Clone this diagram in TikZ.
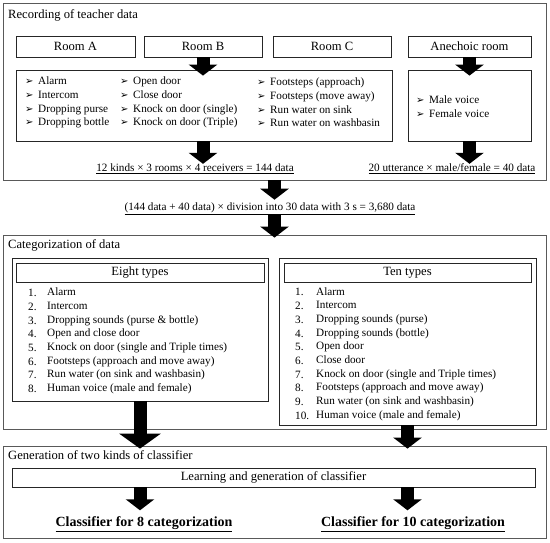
\documentclass[tikz,border=0pt]{standalone}
\usepackage{fontspec}
\setmainfont{Liberation Serif}
\newfontfamily\dejavu{DejaVu Sans}
\usetikzlibrary{arrows.meta}

\newcommand{\bul}{\makebox[13pt][l]{\dejavu\fontsize{10}{10}\selectfont ➢}}

\begin{document}
\begin{tikzpicture}[x = 1pt, y = -1pt]
\tikzstyle{OuterStyle}=[draw = black!65, line width = 0.8pt, inner sep = 0pt]
\tikzstyle{BoxStyle}=[draw = black!85, line width = 0.8pt, inner sep = 0pt,
                      font = \fontsize{12.6}{14}\selectfont]
\tikzstyle{TitleStyle}=[anchor = west, inner sep = 0pt,
                        font = \fontsize{12.6}{14}\selectfont]
\tikzstyle{ListStyle}=[anchor = west, inner sep = 0pt, align = left,
                       font = \fontsize{11.2}{13.7}\selectfont]
\tikzstyle{SumStyle}=[inner sep = 0pt, font = \fontsize{11.2}{13.7}\selectfont]
\tikzstyle{ResultStyle}=[inner sep = 0pt, font = \fontsize{14}{16}\selectfont\bfseries]
\tikzstyle{ArrowStyle}=[line width = 13pt, -{Triangle[width = 28pt, length = 11pt]}]
\tikzstyle{BigArrowStyle}=[line width = 13pt, -{Triangle[width = 41pt, length = 15pt]}]
\useasboundingbox (0, 0) rectangle (550, 543);
\node[OuterStyle, minimum width = 543, minimum height = 177] (rec) at (274.5, 91.5) {};
\node[TitleStyle] (rectitle) at (8, 15) {Recording of teacher data};
\node[BoxStyle, minimum width = 119, minimum height = 21] (roomA) at (75.5, 46.5) {Room A};
\node[BoxStyle, minimum width = 118, minimum height = 21] (roomB) at (203, 46.5) {Room B};
\node[BoxStyle, minimum width = 118, minimum height = 21] (roomC) at (332, 46.5) {Room C};
\node[BoxStyle, minimum width = 123, minimum height = 21] (anech) at (469.5, 46.5) {Anechoic room};
\node[BoxStyle, minimum width = 376, minimum height = 71] (list) at (204, 105.5) {};
\node[BoxStyle, minimum width = 123, minimum height = 71] (voice) at (469.5, 105.5) {};
\node[ListStyle] (colA) at (25, 102.5) {\bul Alarm\\\bul Intercom\\\bul Dropping purse\\\bul Dropping bottle};
\node[ListStyle] (colB) at (120, 102.5) {\bul Open door\\\bul Close door\\\bul Knock on door (single)\\\bul Knock on door (Triple)};
\node[ListStyle] (colC) at (257, 102.5) {\bul Footsteps (approach)\\\bul Footsteps (move away)\\\bul Run water on sink\\\bul Run water on washbasin};
\node[ListStyle] (colD) at (416, 107) {\bul Male voice\\\bul Female voice};
\node[SumStyle] (sumA) at (195, 169) {\underline{12 kinds × 3 rooms × 4 receivers = 144 data}};
\node[SumStyle] (sumB) at (452, 169) {\underline{20 utterance × male/female = 40 data}};
\node[SumStyle] (sumC) at (270, 209) {\underline{(144 data + 40 data) × division into 30 data with 3 s = 3,680 data}};
\draw[ArrowStyle, shorten >= -6pt] (roomB.south) -- (roomB.south |- list.north);
\draw[ArrowStyle] (list.south -| roomB.south) -- (sumA.north -| roomB.south);
\draw[ArrowStyle, shorten >= -6pt] (anech.south) -- (voice.north);
\draw[ArrowStyle] (voice.south) -- (voice.south |- sumB.north);
\draw[ArrowStyle, shorten >= 3pt] (rec.south) -- (rec.south |- sumC.north);
\node[OuterStyle, minimum width = 543, minimum height = 194] (cat) at (274.5, 332) {};
\draw[ArrowStyle, shorten >= -3pt] (sumC.south -| rec.south) -- (cat.north);
\node[TitleStyle] (cattitle) at (8, 245) {Categorization of data};
\node[BoxStyle, minimum width = 256, minimum height = 143] (eight) at (140, 329.5) {};
\node[BoxStyle, minimum width = 248, minimum height = 19] (eighthead) at (140, 272.5) {Eight types};
\node[BoxStyle, minimum width = 257, minimum height = 167] (ten) at (407.5, 341.5) {};
\node[BoxStyle, minimum width = 247, minimum height = 19] (tenhead) at (407.5, 272.5) {Ten types};
\node[ListStyle] (eightnum) at (28, 341) {1.\\2.\\3.\\4.\\5.\\6.\\7.\\8.};
\node[ListStyle] (eightlist) at (47, 341) {Alarm\\Intercom\\Dropping sounds (purse \& bottle)\\Open and close door\\Knock on door (single and Triple times)\\Footsteps (approach and move away)\\Run water (on sink and washbasin)\\Human voice (male and female)};
\node[ListStyle] (tennum) at (295, 354) {1.\\2.\\3.\\4.\\5.\\6.\\7.\\8.\\9.\\10.};
\node[ListStyle] (tenlist) at (316, 354) {Alarm\\Intercom\\Dropping sounds (purse)\\Dropping sounds (bottle)\\Open door\\Close door\\Knock on door (single and Triple times)\\Footsteps (approach and move away)\\Run water (on sink and washbasin)\\Human voice (male and female)};
\node[OuterStyle, minimum width = 543, minimum height = 92] (gen) at (274.5, 492) {};
\node[TitleStyle] (gentitle) at (8, 455) {Generation of two kinds of classifier};
\node[BoxStyle, minimum width = 523, minimum height = 19] (learn) at (273.5, 477.5) {Learning and generation of classifier};
\node[ResultStyle] (clsA) at (144, 524) {\underline{Classifier for 8 categorization}};
\node[ResultStyle] (clsB) at (413, 524) {\underline{Classifier for 10 categorization}};
\draw[BigArrowStyle, shorten >= -3pt] (eight.south) -- (eight.south |- gen.north);
\draw[ArrowStyle, shorten >= -3pt] (ten.south) -- (ten.south |- gen.north);
\draw[ArrowStyle, shorten >= 6pt] (learn.south -| eight.south) -- (clsA.north -| eight.south);
\draw[ArrowStyle, shorten >= 6pt] (learn.south -| ten.south) -- (clsB.north -| ten.south);
\end{tikzpicture}
\end{document}
